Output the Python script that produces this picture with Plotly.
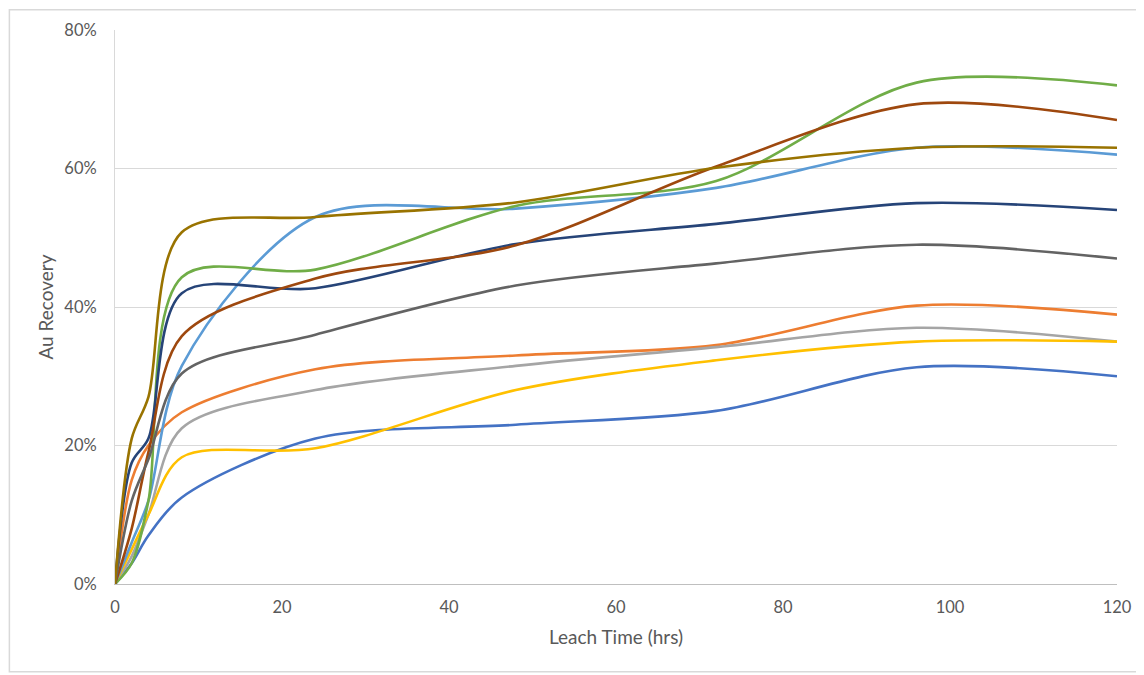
import plotly.graph_objects as go

# Leach time (hrs)
hours = [0, 2, 4, 8, 24, 48, 72, 96, 120]

# Au recovery (%) per test
test_1 = [0, 3.0, 7.0, 12.5, 21.0, 23.0, 25.0, 31.3, 30.0]
test_2 = [0, 15.0, 20.0, 24.8, 31.0, 33.0, 34.5, 40.2, 38.9]
test_3 = [0, 4.0, 10.0, 22.5, 28.0, 31.5, 34.2, 37.0, 35.0]
test_4 = [0, 5.0, 10.0, 18.3, 19.6, 28.0, 32.3, 35.0, 35.0]
test_5 = [0, 6.0, 12.0, 31.5, 53.0, 54.2, 57.2, 63.0, 62.0]
test_6 = [0, 3.0, 12.0, 44.3, 45.4, 54.6, 58.2, 72.4, 72.0]
test_7 = [0, 17.5, 21.0, 42.0, 42.7, 49.1, 52.0, 55.0, 54.0]
test_8 = [0, 8.0, 19.0, 35.8, 44.1, 48.9, 60.3, 69.3, 67.0]
test_9 = [0, 12.0, 18.0, 30.4, 36.0, 43.1, 46.3, 49.0, 47.0]
test_10 = [0, 21.0, 27.0, 50.8, 53.0, 55.1, 60.1, 63.0, 63.0]

series = [test_1, test_2, test_3, test_4, test_5, test_6, test_7, test_8, test_9, test_10]
names = ["Test 1", "Test 2", "Test 3", "Test 4", "Test 5", "Test 6", "Test 7", "Test 8", "Test 9", "Test 10"]
colors = ["#4472C4", "#ED7D31", "#A5A5A5", "#FFC000", "#5B9BD5",
          "#70AD47", "#264478", "#9E480E", "#636363", "#997300"]

y_ticks = [0, 20, 40, 60, 80]
y_labels = ["0%", "20%", "40%", "60%", "80%"]
x_ticks = [0, 20, 40, 60, 80, 100, 120]

fig = go.Figure()
for name, vals, col in zip(names, series, colors):
    fig.add_trace(go.Scatter(
        x=hours, y=vals, name=name, mode="lines",
        line=dict(color=col, width=2.6, shape="spline", smoothing=0.9),
        showlegend=False,
    ))

font_family = "Lato, 'Open Sans', sans-serif"
txt = "#595959"

W, H = 1136, 667
L, R, T, B = 107, 21, 21, 91
pw, ph = W - L - R, H - T - B

fig.update_layout(
    width=W, height=H,
    margin=dict(l=L, r=R, t=T, b=B),
    paper_bgcolor="white", plot_bgcolor="white",
    font=dict(family=font_family, size=16.5, color=txt),
    xaxis=dict(
        range=[0, 120], tickvals=x_ticks, showgrid=False, zeroline=False,
        showline=True, linecolor="#BFBFBF", linewidth=1, ticks="",
        tickfont=dict(size=16.5, color=txt), ticklabelstandoff=8,
        title=dict(text="Leach Time (hrs)", font=dict(size=19, color=txt), standoff=14),
    ),
    yaxis=dict(
        range=[0, 80], tickvals=y_ticks, ticktext=y_labels,
        showgrid=True, gridcolor="#D9D9D9", gridwidth=1, zeroline=False,
        showline=True, linecolor="#D9D9D9", linewidth=1, ticks="",
        tickfont=dict(size=16.5, color=txt), ticklabelstandoff=14,
        title=dict(text="Au Recovery", font=dict(size=19, color=txt), standoff=5),
    ),
    shapes=[dict(
        type="rect", xref="paper", yref="paper",
        x0=(0.75 - L) / pw, x1=(W - 1 - L) / pw,
        y0=-(B - 3) / ph, y1=1 + (T - 0.75) / ph,
        line=dict(color="#D9D9D9", width=1.5), fillcolor="rgba(0,0,0,0)", layer="below",
    )],
)

fig.write_html("out.html")
